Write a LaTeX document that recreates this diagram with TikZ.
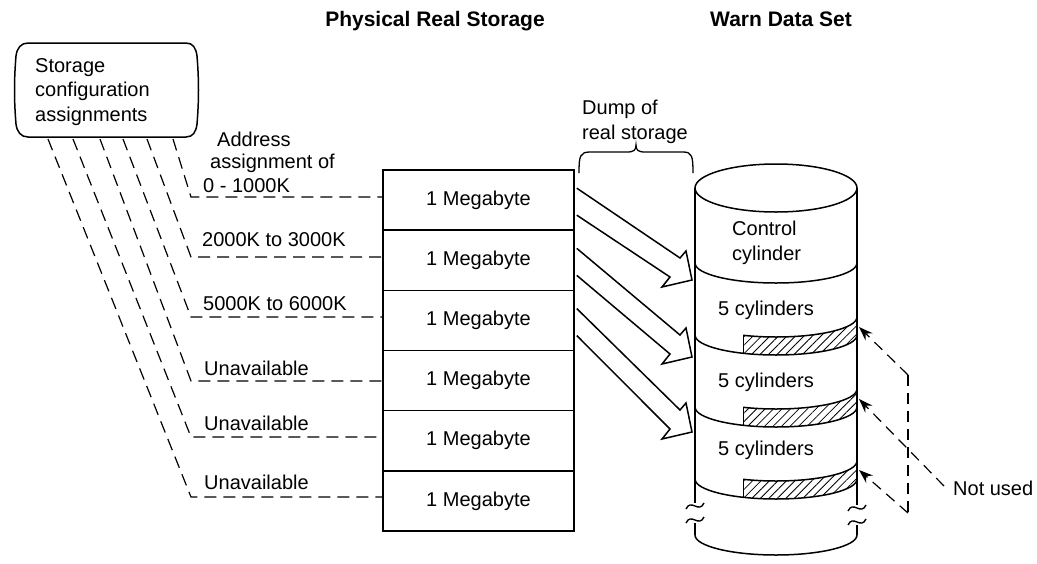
\documentclass[tikz,border=0pt]{standalone}
\usepackage{fontspec}
\setmainfont{Liberation Sans}
\usetikzlibrary{arrows.meta,patterns.meta,calc}

% hollow block arrow from a storage block into the data set:
% #1 = storage node, #2 = y of the arrow tip
\newcommand\dumparrow[2]{%
  \draw[stroke, line join=miter]
    ($(#1.north east)+(2,19)$) -- (680,#2-22) -- (686,#2-29) -- (692,#2)
    -- (662,#2+7) -- (670,#2-3) -- ($(#1.north east)+(2,46)$);
}

\begin{document}
\begin{tikzpicture}[x=1pt, y=-1pt,
  every node/.style={font=\fontsize{20}{24.5}\selectfont, inner sep=0pt},
  title/.style={font=\bfseries\fontsize{21}{25}\selectfont},
  stroke/.style={line width=1.5pt},
  mega/.style={draw, line width=1.5pt, minimum width=191pt, minimum height=60.2pt},
  cfgline/.style={line width=1.2pt, dash pattern=on 12pt off 7pt},
  notdash/.style={line width=1.2pt, dash pattern=on 11pt off 7pt},
  notline/.style={notdash, -{Stealth[length=14pt, width=10pt]}},
  hatch/.style={pattern={Lines[angle=45, distance=6pt, line width=0.8pt]}},
]
\useasboundingbox (0,0) rectangle (1037,563);

% column titles
\node[title] (titleA) at (435,21) {Physical Real Storage};
\node[title] (titleB) at (781,19) {Warn Data Set};

% storage configuration box (slightly bulging sides)
\draw[stroke] (28,43) -- (186,43)
  .. controls (193,43) and (196,48) .. (197,56)
  .. controls (199,80) and (199,100) .. (197,124)
  .. controls (196,132) and (193,137) .. (186,137)
  -- (28,137)
  .. controls (21,137) and (17,132) .. (16,124)
  .. controls (14,100) and (14,80) .. (16,56)
  .. controls (17,48) and (21,43) .. (28,43) -- cycle;
\node[anchor=west, align=left] (cfg) at (35,92) {Storage\\configuration\\assignments};

% physical storage blocks
\foreach \i in {1,...,6}
  \node[mega] (m\i) at (478.5, {200+60.2*(\i-1)}) {1 Megabyte};

% address assignment labels
\node[anchor=west] (addr1) at (217,139) {Address};
\node[anchor=west] (addr2) at (210,163) {assignment of};
\node[anchor=west] (lab1) at (203,186) {0 - 1000K};
\node[anchor=west] (lab2) at (202,240) {2000K to 3000K};
\node[anchor=west] (lab3) at (203,304) {5000K to 6000K};
\node[anchor=west] (lab4) at (204,368) {Unavailable};
\node[anchor=west] (lab5) at (204,423) {Unavailable};
\node[anchor=west] (lab6) at (204,482) {Unavailable};

% dashed assignment lines from the configuration box to each block
\foreach \k/\sx/\by in {1/173/197, 2/147/257, 3/123/317, 4/100/381, 5/73/437, 6/48/497} {
  \coordinate (s\k) at (\sx,139);
  \coordinate (b\k) at (191,\by);
  \draw[cfgline] (s\k) -- (b\k) -- (m\k.west |- b\k);
}

% brace over the dump arrows
\node[anchor=west, align=left] (dump) at (582,122) {Dump of\\real storage};
\draw[line width=1.3pt] (579,173) .. controls (579,156) and (580,152) .. (590,152)
  -- (627,152) .. controls (634,152) and (636,150) .. (636,145)
  .. controls (636,150) and (638,152) .. (645,152)
  -- (683,152) .. controls (692,152) and (693,156) .. (693,173);

% hatched unused tracks at the end of each 5-cylinder band
\foreach \c in {335,407,479} {
  \begin{scope}
    \clip (743,\c-40) rectangle (857,\c+30);
    \fill[hatch] (695,\c) arc[start angle=180, end angle=0, x radius=81, y radius=20]
      -- (857,\c-18) arc[start angle=0, end angle=180, x radius=81, y radius=20] -- cycle;
    \draw[stroke] (857,\c-18) arc[start angle=0, end angle=180, x radius=81, y radius=20];
    \draw[stroke] (743,\c) -- (743,\c+18.5);
  \end{scope}
}

% warn data set cylinder
\draw[stroke] (776,188) ellipse [x radius=81, y radius=24];
\draw[stroke] (695,188) -- (695,503);
\draw[stroke] (695,523) -- (695,535);
\draw[stroke] (857,188) -- (857,505);
\draw[stroke] (857,525) -- (857,535);
\draw[stroke] (695,535) arc[start angle=180, end angle=0, x radius=81, y radius=20];
\foreach \c in {263,335,407,479}
  \draw[stroke] (695,\c) arc[start angle=180, end angle=0, x radius=81, y radius=20];
% break marks on the sides
\foreach \bx/\by in {695/506, 695/520, 857/508, 857/522}
  \draw[line width=1.4pt] (\bx-9,\by+3) .. controls (\bx-4,\by-8) and (\bx+4,\by+8) .. (\bx+9,\by-3);

\node[anchor=west, align=left] (ctl) at (732,243) {Control\\cylinder};
\node[anchor=west] (five1) at (718,310) {5 cylinders};
\node[anchor=west] (five2) at (718,382) {5 cylinders};
\node[anchor=west] (five3) at (718,450) {5 cylinders};

% dump arrows
\dumparrow{m1}{280}
\dumparrow{m2}{357}
\dumparrow{m3}{432}

% "Not used" pointers
\node[anchor=west] (nu) at (953,488) {Not used};
\coordinate (k1) at (908,375);
\coordinate (k2) at (908,513);
\coordinate (nuend) at (944,486);
\coordinate (p1) at (859,327);
\coordinate (p2) at (859,399);
\coordinate (p3) at (859,470);
\draw[notdash] (k1) -- (k2);
\draw[notline] (k1) -- (p1);
\draw[notline] (nuend) -- (p2);
\draw[notline] (k2) -- (p3);
\end{tikzpicture}
\end{document}
